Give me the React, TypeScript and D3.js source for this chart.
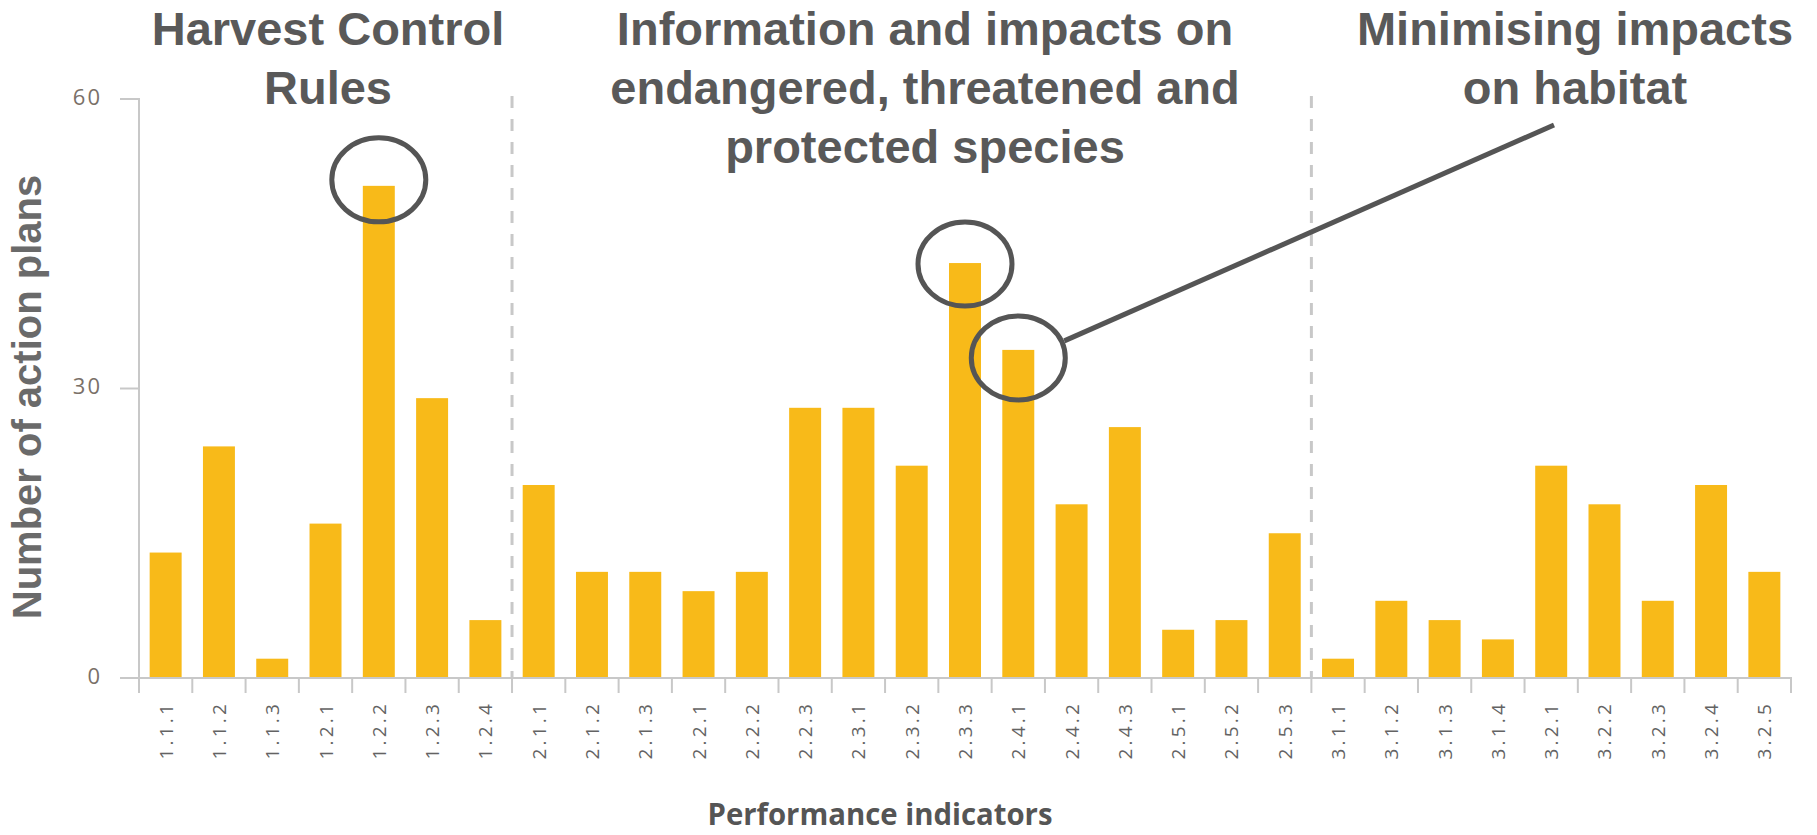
import React from "react";
import * as d3 from "d3";

const categories = [
  "1.1.1", "1.1.2", "1.1.3", "1.2.1", "1.2.2", "1.2.3", "1.2.4",
  "2.1.1", "2.1.2", "2.1.3", "2.2.1", "2.2.2", "2.2.3", "2.3.1", "2.3.2", "2.3.3",
  "2.4.1", "2.4.2", "2.4.3", "2.5.1", "2.5.2", "2.5.3",
  "3.1.1", "3.1.2", "3.1.3", "3.1.4", "3.2.1", "3.2.2", "3.2.3", "3.2.4", "3.2.5",
];
const values = [
  13, 24, 2, 16, 51, 29, 6,
  20, 11, 11, 9, 11, 28, 28, 22, 43, 34, 18, 26, 5, 6, 15,
  2, 8, 6, 4, 22, 18, 8, 20, 11,
];
const yTicks = [0, 30, 60];
const separatorsAfter = ["1.2.4", "2.5.3"];
const highlighted = ["1.2.2", "2.3.3", "2.4.1"];
const highlightOffsets = [-6, 1, 8];
const groupTitles = [
  ["Harvest Control", "Rules"],
  ["Information and impacts on", "endangered, threatened and", "protected species"],
  ["Minimising impacts", "on habitat"],
];
const groupTitleX = [328, 925, 1575];
const yAxisTitle = "Number of action plans";
const xAxisTitle = "Performance indicators";

const W = 1817;
const H = 835;
const BAR = "#F8BA19";
const AXIS = "#c8c8c8";
const DARK = "#595959";

export default function App() {
  const x = d3
    .scaleBand<string>()
    .domain(categories)
    .range([139, 1791])
    .paddingInner(0.4)
    .paddingOuter(0.2);
  const y = d3.scaleLinear().domain([0, 60]).range([678, 99]);
  const step = x.step();
  const x0 = x.range()[0];
  const x1 = x.range()[1];
  const y0 = y(0);
  const boundary = (i: number) => x0 + i * step;
  const tickLen = 15;

  const ellipses = highlighted.map((c, i) => {
    const idx = categories.indexOf(c);
    return {
      cx: (x(c) as number) + x.bandwidth() / 2,
      cy: y(values[idx]) + highlightOffsets[i],
    };
  });
  const rx = 47;
  const ry = 42;
  const last = ellipses[2];
  const lineStart = [last.cx + rx - 1, last.cy - 17];
  const lineEnd = [1554, 125];

  return (
    <svg
      width={W}
      height={H}
      style={{ position: "absolute", left: 0, top: 0, background: "#fff" }}
    >
      {/* separators */}
      {separatorsAfter.map((c) => {
        const i = categories.indexOf(c) + 1;
        const xx = boundary(i);
        return (
          <line
            key={c}
            x1={xx}
            x2={xx}
            y1={96}
            y2={y0}
            stroke={AXIS}
            strokeWidth={3}
            strokeDasharray="12 11"
          />
        );
      })}

      {/* bars */}
      {categories.map((c, i) => (
        <rect
          key={c}
          x={x(c)}
          y={y(values[i])}
          width={x.bandwidth()}
          height={y0 - y(values[i])}
          fill={BAR}
        />
      ))}

      {/* y axis */}
      <path
        d={`M120,${y0}H${x0}V${y(60)}H120`}
        fill="none"
        stroke={AXIS}
        strokeWidth={2}
      />
      {yTicks.map((t) => (
        <g key={t}>
          <line x1={120} x2={x0} y1={y(t)} y2={y(t)} stroke={AXIS} strokeWidth={2} />
          <text
            x={102}
            y={y(t)}
            textAnchor="end"
            dominantBaseline="middle"
            fontFamily="'Open Sans', sans-serif"
            fontSize={22}
            letterSpacing={2}
            fill="#7a7068"
          >
            {t}
          </text>
        </g>
      ))}

      {/* x axis */}
      <path
        d={`M${x0},${y0 + tickLen}V${y0}H${x1}V${y0 + tickLen}`}
        fill="none"
        stroke={AXIS}
        strokeWidth={2}
      />
      {d3.range(categories.length + 1).map((i) => (
        <line
          key={i}
          x1={boundary(i)}
          x2={boundary(i)}
          y1={y0}
          y2={y0 + tickLen}
          stroke={AXIS}
          strokeWidth={2}
        />
      ))}
      {categories.map((c) => {
        const cx = (x(c) as number) + x.bandwidth() / 2;
        return (
          <text
            key={c}
            transform={`translate(${cx + 7},701) rotate(-90)`}
            textAnchor="end"
            fontFamily="'Open Sans', sans-serif"
            fontSize={19}
            letterSpacing={3.2}
            fill="#636363"
          >
            {c}
          </text>
        );
      })}

      {/* axis titles */}
      <text
        transform={`translate(41,397) rotate(-90)`}
        textAnchor="middle"
        fontFamily="'Liberation Sans', Arial, sans-serif"
        fontWeight="bold"
        fontSize={40}
        fill="#6a6a6a"
      >
        {yAxisTitle}
      </text>
      <text
        x={880}
        y={825}
        textAnchor="middle"
        fontFamily="'Open Sans', sans-serif"
        fontWeight="bold"
        fontSize={30}
        textLength={345}
        lengthAdjust="spacingAndGlyphs"
        fill="#555"
      >
        {xAxisTitle}
      </text>

      {/* group titles */}
      {groupTitles.map((lines, gi) => (
        <text
          key={gi}
          textAnchor="middle"
          fontFamily="'Liberation Sans', Arial, sans-serif"
          fontWeight="bold"
          fontSize={47}
          fill={DARK}
        >
          {lines.map((l, li) => (
            <tspan key={li} x={groupTitleX[gi]} y={45 + li * 59}>
              {l}
            </tspan>
          ))}
        </text>
      ))}

      {/* highlight ellipses */}
      {ellipses.map((e, i) => (
        <ellipse
          key={i}
          cx={e.cx}
          cy={e.cy}
          rx={rx}
          ry={ry}
          fill="none"
          stroke="#555"
          strokeWidth={5}
        />
      ))}
      <line
        x1={lineStart[0]}
        y1={lineStart[1]}
        x2={lineEnd[0]}
        y2={lineEnd[1]}
        stroke="#555"
        strokeWidth={5}
      />
    </svg>
  );
}
